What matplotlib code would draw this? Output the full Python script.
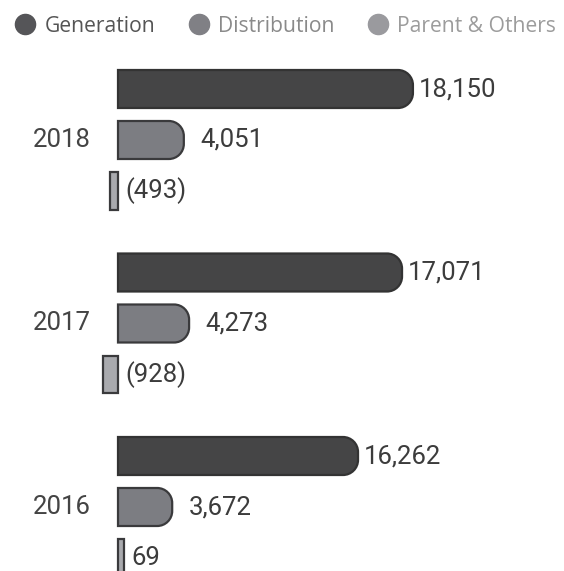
import numpy as np
import matplotlib.pyplot as plt
from matplotlib.path import Path
from matplotlib.patches import PathPatch
from matplotlib.lines import Line2D

# data (millions), one group per year, top to bottom
years = ['2018', '2017', '2016']
series = ['Generation', 'Distribution', 'Parent & Others']
generation = [18150, 17071, 16262]
distribution = [4051, 4273, 3672]
parent = [-493, -928, 69]
axis_max = [27446, 26805, 30217]   # each year block has its own scale in the source

fill = ['#454546', '#7c7d82', '#a9aaae']
edge = ['#333333', '#3a3a3c', '#3a3a3c']
legend_dot = ['#555558', '#808085', '#9a9a9e']
legend_txt = ['#555555', '#8a8a8a', '#9c9c9c']

W, H = 564, 571
fig = plt.figure(figsize=(W / 100, H / 100), dpi=100)

BASE_PX = 118      # where zero sits
ROW_PX = 51        # distance between bars
BAR_H = 0.745      # bar height in row units
R_PX = 15          # corner radius of the rounded bar ends
MIN_PX = 6         # tiny values still show as a sliver


def bar_path(x0, x1, yc, h, rx, ry, rounded):
    y0, y1 = yc - h / 2, yc + h / 2
    if not rounded:
        verts = [(x0, y0), (x1, y0), (x1, y1), (x0, y1), (x0, y0)]
        codes = [Path.MOVETO] + [Path.LINETO] * 3 + [Path.CLOSEPOLY]
        return Path(verts, codes)
    k = 0.5523
    verts = [(x0, y0), (x1 - rx, y0),
             (x1 - rx + k * rx, y0), (x1, y0 + ry - k * ry), (x1, y0 + ry),
             (x1, y1 - ry),
             (x1, y1 - ry + k * ry), (x1 - rx + k * rx, y1), (x1 - rx, y1),
             (x0, y1), (x0, y0)]
    codes = [Path.MOVETO, Path.LINETO,
             Path.CURVE4, Path.CURVE4, Path.CURVE4,
             Path.LINETO,
             Path.CURVE4, Path.CURVE4, Path.CURVE4,
             Path.LINETO, Path.CLOSEPOLY]
    return Path(verts, codes)


for g, year in enumerate(years):
    top_px = 63.5 + 183.5 * g
    ax = fig.add_axes([0, 1 - (top_px + 3 * ROW_PX) / H, 1, 3 * ROW_PX / H])
    scale = (W - BASE_PX) / axis_max[g]          # px per unit
    ax.set_xlim(-BASE_PX / scale, axis_max[g])
    ax.set_ylim(2.5, -0.5)
    ax.axis('off')

    rx = R_PX / scale
    ry = R_PX / ROW_PX
    vals = [generation[g], distribution[g], parent[g]]
    for i, v in enumerate(vals):
        if abs(v) * scale < MIN_PX:
            x0, x1 = (0, MIN_PX / scale) if v >= 0 else (-MIN_PX / scale, 0)
        else:
            x0, x1 = min(0, v), max(0, v)
        rounded = v > 0 and (x1 - x0) * scale > 2 * R_PX
        ax.add_patch(PathPatch(bar_path(x0, x1, i, BAR_H, rx, ry, rounded),
                               facecolor=fill[i], edgecolor=edge[i], lw=1.6))
        txt = f'{v:,}' if v >= 0 else f'({-v:,})'
        off = [4, 12, 5][i]
        ax.annotate(txt, (x1, i), xytext=(off, 0), textcoords='offset points',
                    va='center', ha='left', fontsize=18.5, family='Roboto',
                    color='#3c3c3c')
    ax.annotate(year, (0, 1), xytext=(-19.5, 0), textcoords='offset points',
                va='center', ha='right', fontsize=18.5, family='Roboto',
                color='#444444')

handles = [Line2D([], [], marker='o', ls='', markersize=14.5, color=c)
           for c in legend_dot]
fig.legend(handles, series, loc='center left', bbox_to_anchor=(0.022, 1 - 26 / H),
           ncol=3, frameon=False, handletextpad=0.32, columnspacing=1.45,
           handlelength=1.2, borderpad=0, borderaxespad=0,
           prop={'family': 'Open Sans', 'size': 15.2}, labelcolor=legend_txt)

fig.savefig('out.png', dpi=100)
